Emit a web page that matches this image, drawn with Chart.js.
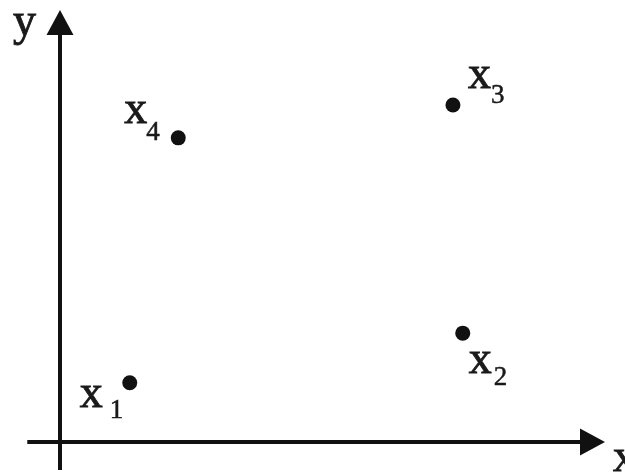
<!DOCTYPE html>
<html>
  <head>
    <meta charset="UTF-8" />
    <title>Points x1..x4</title>
    <script src="https://cdn.jsdelivr.net/npm/chart.js"></script>
    <style>
      html,
      body {
        margin: 0;
        padding: 0;
        background: #fff;
      }
      canvas {
        display: block;
      }
    </style>
  </head>
  <body>
    <canvas id="pointsChart" width="625" height="472"></canvas>
  </body>
  <script>
    // point data (abstract units, origin at the axes crossing)
    const pointNames = ["1", "2", "3", "4"];
    const xValues = [1.28, 7.39, 7.21, 2.17];
    const yValues = [1.37, 2.52, 7.8, 7.04];

    // axis extents in data units
    const xAxisRange = [-0.6, 10];
    const yAxisRange = [-0.65, 10];

    // label placement relative to each dot (pixels): [dx, dy] for "x", [dx, dy] for subscript
    const labelOffsets = [
      [-50, 24, -20, 35],
      [6, 40, 31, 52],
      [15, -17, 38, -2],
      [-54, -15, -32, 2],
    ];

    const ink = "#111";

    // text drawn a touch heavier, like the scanned original
    function heavyText(ctx, str, x, y) {
      ctx.fillText(str, x, y);
      ctx.strokeText(str, x, y);
    }

    const axesPlugin = {
      id: "arrowAxes",
      beforeDatasetsDraw(chart) {
        const { ctx } = chart;
        const xs = chart.scales.x;
        const ys = chart.scales.y;
        const x0 = xs.getPixelForValue(0);
        const y0 = ys.getPixelForValue(0);
        const xStart = xs.getPixelForValue(xAxisRange[0]);
        const xEnd = xs.getPixelForValue(xAxisRange[1]);
        const yStart = ys.getPixelForValue(yAxisRange[0]);
        const yEnd = ys.getPixelForValue(yAxisRange[1]);
        const head = 25;
        const half = 13.5;

        ctx.save();
        ctx.strokeStyle = ink;
        ctx.fillStyle = ink;
        ctx.lineWidth = 4;

        // x axis
        ctx.beginPath();
        ctx.moveTo(xStart, y0);
        ctx.lineTo(xEnd - head + 2, y0);
        ctx.stroke();
        ctx.beginPath();
        ctx.moveTo(xEnd, y0);
        ctx.lineTo(xEnd - head, y0 - half);
        ctx.lineTo(xEnd - head, y0 + half);
        ctx.closePath();
        ctx.fill();

        // y axis
        ctx.beginPath();
        ctx.moveTo(x0, yStart);
        ctx.lineTo(x0, yEnd + head - 2);
        ctx.stroke();
        ctx.beginPath();
        ctx.moveTo(x0, yEnd);
        ctx.lineTo(x0 - half, yEnd + head);
        ctx.lineTo(x0 + half, yEnd + head);
        ctx.closePath();
        ctx.fill();

        // axis names
        ctx.font = "46px 'Liberation Serif'";
        ctx.textAlign = "left";
        ctx.textBaseline = "alphabetic";
        ctx.fillStyle = "#1a1a1a";
        ctx.strokeStyle = "#1a1a1a";
        ctx.lineWidth = 0.9;
        heavyText(ctx, "y", x0 - 47, yEnd + 25);
        heavyText(ctx, "x", xEnd + 8, y0 + 29);
        ctx.restore();
      },
      afterDatasetsDraw(chart) {
        const { ctx } = chart;
        const meta = chart.getDatasetMeta(0);
        ctx.save();
        ctx.fillStyle = "#1a1a1a";
        ctx.strokeStyle = "#1a1a1a";
        ctx.textAlign = "left";
        ctx.textBaseline = "alphabetic";
        meta.data.forEach((pt, i) => {
          const off = labelOffsets[i];
          ctx.font = "46px 'Liberation Serif'";
          ctx.lineWidth = 0.9;
          heavyText(ctx, "x", pt.x + off[0], pt.y + off[1]);
          ctx.font = "27px 'Liberation Serif'";
          ctx.lineWidth = 0.5;
          heavyText(ctx, pointNames[i], pt.x + off[2], pt.y + off[3]);
        });
        ctx.restore();
      },
    };

    const ctx = document.getElementById("pointsChart").getContext("2d");
    new Chart(ctx, {
      type: "scatter",
      data: {
        datasets: [
          {
            label: "points",
            data: xValues.map((x, i) => ({ x: x, y: yValues[i] })),
            pointRadius: 7.5,
            pointHoverRadius: 7.5,
            pointBackgroundColor: ink,
            pointBorderWidth: 0,
            clip: false,
          },
        ],
      },
      options: {
        responsive: false,
        animation: false,
        layout: {
          padding: { left: 60, right: 20, top: 10, bottom: 30 },
        },
        plugins: {
          legend: { display: false },
          tooltip: { enabled: false },
        },
        scales: {
          x: { type: "linear", min: 0, max: 10, display: false },
          y: { type: "linear", min: 0, max: 10, display: false },
        },
      },
      plugins: [axesPlugin],
    });
  </script>
</html>
